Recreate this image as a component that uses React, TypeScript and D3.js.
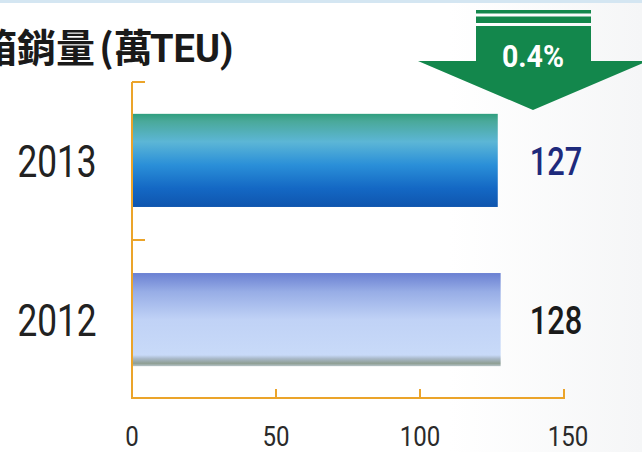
import React from "react";
import * as d3 from "d3";

const categories = ["2013", "2012"];
const values = [127, 128];
const valueLabels = ["127", "128"];
const xTicks = [0, 50, 100, 150];
const titleCJK = "箱銷量";
const titleUnitCJK = "(萬";
const titleUnitLatin = "TEU)";
const changeLabel = "0.4%";

const W = 642;
const H = 452;

const sx = (cx: number, k: number) =>
  `translate(${cx},0) scale(${k},1) translate(${-cx},0)`;

export default function App() {
  const x = d3.scaleLinear().domain([0, 150]).range([132, 564]);
  const y = d3
    .scaleBand<string>()
    .domain(categories)
    .range([82, 398])
    .paddingInner(0.415)
    .paddingOuter(0.2);
  const orange = "#eba42a";
  const axisY = 398;
  const midY = (y(categories[0])! + y.bandwidth() + y(categories[1])!) / 2;

  const ax = 533;
  const arrowPath = [
    [476, 26],
    [591, 26],
    [591, 61],
    [648, 61],
    [ax, 110],
    [418, 61],
    [476, 61],
  ];

  return (
    <svg
      width={W}
      height={H}
      style={{ position: "absolute", left: 0, top: 0, display: "block" }}
    >
      <defs>
        <linearGradient id="g2013" x1="0" y1="0" x2="0" y2="1">
          <stop offset="0" stopColor="#2f9f7e" />
          <stop offset="0.08" stopColor="#4aa99a" />
          <stop offset="0.3" stopColor="#5cb6d6" />
          <stop offset="0.55" stopColor="#2a8fd8" />
          <stop offset="0.8" stopColor="#1468c4" />
          <stop offset="1" stopColor="#0f55ae" />
        </linearGradient>
        <linearGradient id="g2012" x1="0" y1="0" x2="0" y2="1">
          <stop offset="0" stopColor="#6a80d2" />
          <stop offset="0.2" stopColor="#97ade6" />
          <stop offset="0.5" stopColor="#c0d2f6" />
          <stop offset="0.88" stopColor="#c8daf8" />
          <stop offset="0.92" stopColor="#a8b8c8" />
          <stop offset="0.97" stopColor="#8f9f94" />
          <stop offset="1" stopColor="#b6c4c8" />
        </linearGradient>
        <linearGradient id="bg" x1="0" y1="0" x2="1" y2="0">
          <stop offset="0" stopColor="#ffffff" />
          <stop offset="0.7" stopColor="#ffffff" />
          <stop offset="1" stopColor="#f5f6f7" />
        </linearGradient>
      </defs>
      <rect x={0} y={0} width={W} height={H} fill="url(#bg)" />
      <rect x={0} y={0} width={W} height={3} fill="#d4e6f2" />

      {/* title (cut at the left edge as in the reference) */}
      <text
        x={95}
        y={62}
        textAnchor="end"
        fontFamily="'Noto Sans CJK TC', sans-serif"
        fontWeight={700}
        fontSize={39}
        fill="#1a1a1a"
      >
        {titleCJK}
      </text>
      <text
        x={99}
        y={62}
        fontFamily="'Noto Sans CJK TC', sans-serif"
        fontWeight={700}
        fontSize={39}
        fill="#1a1a1a"
      >
        {titleUnitCJK}
      </text>
      <text
        x={150}
        y={62}
        fontFamily="Roboto, sans-serif"
        fontWeight={700}
        fontSize={38}
        fill="#1a1a1a"
      >
        {titleUnitLatin}
      </text>

      {/* arrow */}
      <rect x={476} y={10} width={115} height={3.5} fill="#13874c" />
      <rect x={476} y={16.5} width={115} height={6.5} fill="#13874c" />
      <path
        d={d3.line()(arrowPath as [number, number][])! + "Z"}
        fill="#13874c"
      />
      <text
        x={ax}
        y={67}
        textAnchor="middle"
        fontFamily="Roboto, sans-serif"
        fontWeight={700}
        fontSize={31}
        fill="#ffffff"
        transform={sx(ax, 0.92)}
      >
        {changeLabel}
      </text>

      {/* bars */}
      {categories.map((c, i) => (
        <rect
          key={c}
          x={x(0) + 1}
          y={y(c)!}
          width={x(values[i]) - x(0) - 1}
          height={y.bandwidth()}
          fill={`url(#g${c})`}
        />
      ))}

      {/* y axis */}
      <line x1={132} x2={132} y1={82} y2={axisY} stroke={orange} strokeWidth={2} />
      <line x1={132} x2={145} y1={82} y2={82} stroke={orange} strokeWidth={2} />
      <line x1={132} x2={145} y1={midY} y2={midY} stroke={orange} strokeWidth={2} />

      {/* x axis */}
      <line x1={131} x2={565} y1={axisY} y2={axisY} stroke={orange} strokeWidth={2} />
      {xTicks.slice(1).map((t) => (
        <line
          key={t}
          x1={x(t)}
          x2={x(t)}
          y1={axisY}
          y2={axisY - 9}
          stroke={orange}
          strokeWidth={2}
        />
      ))}
      {xTicks.map((t) => (
        <text
          key={t}
          x={x(t) + (t === 150 ? 4 : 0)}
          y={446}
          textAnchor="middle"
          fontFamily="Roboto, sans-serif"
          fontWeight={400}
          fontSize={28}
          fill="#2a2a2a"
          transform={sx(x(t) + (t === 150 ? 4 : 0), 0.86)}
        >
          {t}
        </text>
      ))}

      {/* category labels */}
      {categories.map((c) => (
        <text
          key={c}
          x={57}
          y={y(c)! + y.bandwidth() / 2 + 16.5}
          textAnchor="middle"
          fontFamily="Roboto, sans-serif"
          fontWeight={400}
          fontSize={44}
          fill="#222222"
          transform={sx(57, 0.8)}
        >
          {c}
        </text>
      ))}

      {/* value labels */}
      {categories.map((c, i) => (
        <text
          key={c}
          x={556}
          y={y(c)! + y.bandwidth() / 2 + 14.5}
          textAnchor="middle"
          fontFamily="Roboto, sans-serif"
          fontWeight={500}
          fontSize={38}
          fill={i === 0 ? "#1e2a7c" : "#1a1a1a"}
          transform={sx(556, 0.81)}
        >
          {valueLabels[i]}
        </text>
      ))}
    </svg>
  );
}
